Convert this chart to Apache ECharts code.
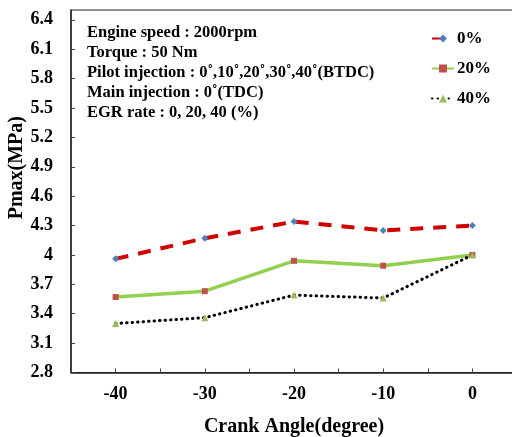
<!DOCTYPE html>
<html>
<head>
<meta charset="utf-8">
<script src="https://cdn.jsdelivr.net/npm/echarts@6/dist/echarts.min.js"></script>
<style>html,body{margin:0;padding:0;background:#fff}#c{width:512px;height:437px}</style>
</head>
<body>
<div id="c"></div>
<script>
var crankAngles = [-40, -30, -20, -10, 0];
var egr0 = [3.96, 4.17, 4.34, 4.25, 4.30];
var egr20 = [3.57, 3.63, 3.94, 3.89, 4.00];
var egr40 = [3.30, 3.36, 3.59, 3.56, 4.00];
var seriesNames = ['0%', '20%', '40%'];
var yTickLabels = [2.8, 3.1, 3.4, 3.7, 4.0, 4.3, 4.6, 4.9, 5.2, 5.5, 5.8, 6.1, 6.4];
var xTickLabels = [-40, -30, -20, -10, 0];
var xTickMarks = [-40, -35, -30, -25, -20, -15, -10, -5, 0];
var infoLines = [
  'Engine speed : 2000rpm',
  'Torque : 50 Nm',
  'Pilot injection : 0\u02da,10\u02da,20\u02da,30\u02da,40\u02da(BTDC)',
  'Main injection : 0\u02da(TDC)',
  'EGR rate : 0, 20, 40 (%)'
];

function pairs(vals) { return crankAngles.map(function (x, i) { return [x, vals[i]]; }); }
var serif = '"Liberation Serif", "Times New Roman", serif';

var chart = echarts.init(document.getElementById('c'), null, { renderer: 'canvas' });
chart.setOption({
  backgroundColor: '#fff',
  animation: false,
  grid: { left: 71, right: -5, top: 10, bottom: 64.5, show: true, borderColor: '#222', borderWidth: 1,
    containLabel: false, outerBoundsMode: 'none' },
  xAxis: {
    type: 'value', min: -45, max: 5,
    axisLine: { show: true, onZero: false, lineStyle: { color: '#222', width: 1.5 } },
    axisTick: { show: true, inside: true, length: 4, customValues: xTickMarks, lineStyle: { color: '#444' } },
    axisLabel: { customValues: xTickLabels, color: '#000', fontFamily: serif, fontWeight: 'bold', fontSize: 18, margin: 13 },
    splitLine: { show: false },
    name: 'Crank Angle(degree)', nameLocation: 'middle', nameGap: 44,
    nameTextStyle: { color: '#000', fontFamily: serif, fontWeight: 'bold', fontSize: 20 }
  },
  yAxis: {
    type: 'value', min: 2.8, max: 6.5,
    axisLine: { show: true, onZero: false, lineStyle: { color: '#222', width: 1.5 } },
    axisTick: { show: true, inside: true, length: 4, customValues: yTickLabels, lineStyle: { color: '#444' } },
    axisLabel: { customValues: yTickLabels, color: '#000', fontFamily: serif, fontWeight: 'bold', fontSize: 18, margin: 18,
      formatter: function (v) { return String(Number(v.toFixed(1))); } },
    splitLine: { show: false }
  },
  legend: {
    orient: 'vertical', left: 426, top: 25, itemWidth: 22, itemHeight: 10, itemGap: 13,
    textStyle: { color: '#000', fontFamily: serif, fontWeight: 'bold', fontSize: 17, padding: [0, 0, 0, -2] },
    data: seriesNames
  },
  graphic: [
    { type: 'text', left: 7, top: 116, rotation: Math.PI / 2,
      style: { text: 'Pmax(MPa)', fill: '#000', font: 'bold 20px ' + serif } },
    { type: 'text', left: 87, top: 23,
      style: { text: infoLines.join('\n'), fill: '#000', font: 'bold 16.5px ' + serif, lineHeight: 20 } }
  ],
  series: [
    { name: seriesNames[0], type: 'line', data: pairs(egr0), symbol: 'diamond', symbolSize: 7,
      itemStyle: { color: '#4f81bd' },
      lineStyle: { color: '#d00000', width: 4, type: [13, 10] } },
    { name: seriesNames[1], type: 'line', data: pairs(egr20), symbol: 'rect', symbolSize: 6,
      itemStyle: { color: '#c0504d' },
      lineStyle: { color: '#92d050', width: 3.5, type: 'solid' } },
    { name: seriesNames[2], type: 'line', data: pairs(egr40), symbol: 'triangle', symbolSize: 7,
      itemStyle: { color: '#9bbb59' },
      lineStyle: { color: '#000', width: 3, type: [0.5, 5], cap: 'round' } }
  ]
});
</script>
</body>
</html>
